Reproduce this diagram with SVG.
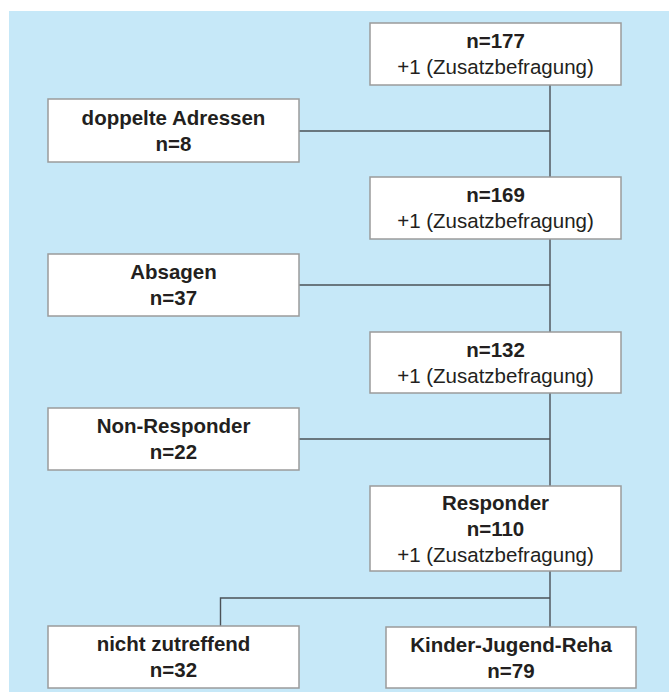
<svg xmlns="http://www.w3.org/2000/svg" width="669" height="692" viewBox="0 0 669 692">
<style>
.box{fill:#ffffff;stroke:#9b9b9b;stroke-width:1.5}
.t{font-family:"Liberation Sans",Arial,sans-serif;font-size:20.5px;fill:#231f20;text-anchor:middle}
.b{font-weight:bold}
.ln{stroke:#4b5157;stroke-width:1.4;fill:none}
</style>
<rect x="0" y="0" width="669" height="692" fill="#ffffff"/>
<rect x="9" y="11" width="660" height="681" fill="#c6e8f8"/>
<g id="connectors">
<path class="ln" d="M550 85V177M550 239V332M550 393V486M550 571V627"/>
<path class="ln" d="M299 131H550M299 285H550M299 439H550"/>
<path class="ln" d="M220.5 626V598H550"/>
</g>
<g id="n177">
<rect class="box" x="370" y="23" width="251" height="62"/>
<text class="t b" x="495.5" y="48">n=177</text>
<text class="t" x="495.5" y="74">+1 (Zusatzbefragung)</text>
</g>
<g id="doppelte">
<rect class="box" x="48" y="99" width="251" height="63"/>
<text class="t b" x="173.5" y="125">doppelte Adressen</text>
<text class="t b" x="173.5" y="151">n=8</text>
</g>
<g id="n169">
<rect class="box" x="370" y="177" width="251" height="62"/>
<text class="t b" x="495.5" y="202">n=169</text>
<text class="t" x="495.5" y="228">+1 (Zusatzbefragung)</text>
</g>
<g id="absagen">
<rect class="box" x="48" y="254" width="251" height="62"/>
<text class="t b" x="173.5" y="279">Absagen</text>
<text class="t b" x="173.5" y="305">n=37</text>
</g>
<g id="n132">
<rect class="box" x="370" y="332" width="251" height="61"/>
<text class="t b" x="495.5" y="357">n=132</text>
<text class="t" x="495.5" y="383">+1 (Zusatzbefragung)</text>
</g>
<g id="nonresponder">
<rect class="box" x="48" y="408" width="251" height="62"/>
<text class="t b" x="173.5" y="433">Non-Responder</text>
<text class="t b" x="173.5" y="459">n=22</text>
</g>
<g id="responder">
<rect class="box" x="370" y="486" width="251" height="85"/>
<text class="t b" x="495.5" y="510">Responder</text>
<text class="t b" x="495.5" y="536">n=110</text>
<text class="t" x="495.5" y="562">+1 (Zusatzbefragung)</text>
</g>
<g id="nichtzutreffend">
<rect class="box" x="48" y="626" width="251" height="62"/>
<text class="t b" x="173.5" y="651">nicht zutreffend</text>
<text class="t b" x="173.5" y="677">n=32</text>
</g>
<g id="kinderjugendreha">
<rect class="box" x="386" y="627" width="250" height="61"/>
<text class="t b" x="511" y="652">Kinder-Jugend-Reha</text>
<text class="t b" x="511" y="678">n=79</text>
</g>
</svg>
